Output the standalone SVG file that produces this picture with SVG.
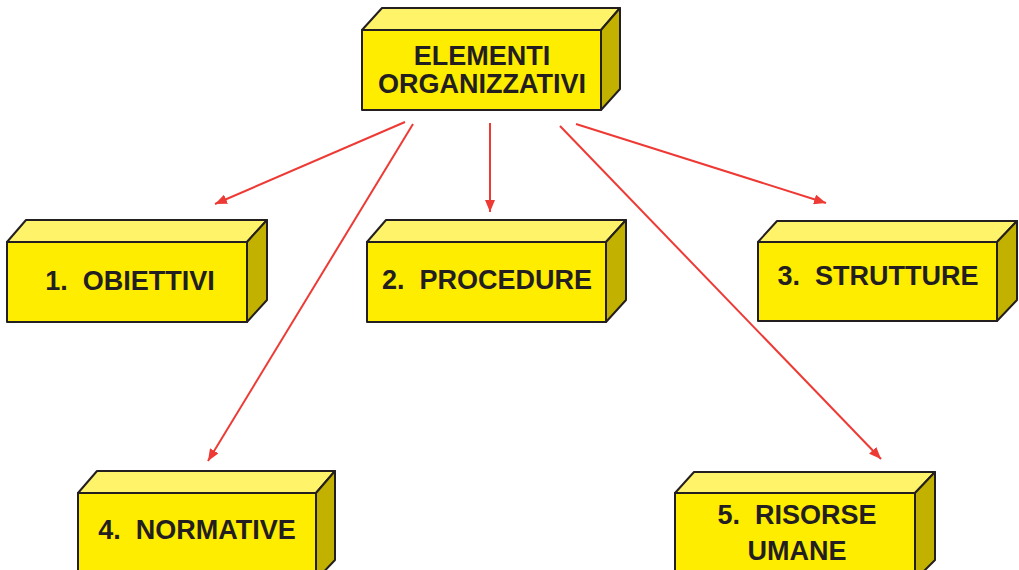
<svg xmlns="http://www.w3.org/2000/svg" width="1019" height="570" viewBox="0 0 1019 570">
<style>
.front{fill:#ffed00;stroke:#231f20;stroke-width:2;stroke-linejoin:round}
.top{fill:#fff36a;stroke:#231f20;stroke-width:2;stroke-linejoin:round}
.side{fill:#c3b100;stroke:#231f20;stroke-width:2;stroke-linejoin:round}
.lbl{font-family:"Liberation Sans",Arial,sans-serif;font-weight:bold;font-size:27px;fill:#231f20;text-anchor:middle;white-space:pre}
.conn line{stroke:#ee3a35;stroke-width:2}
</style>
<defs>
<marker id="ah" viewBox="0 0 12 10" refX="12" refY="5" markerWidth="12" markerHeight="10" markerUnits="userSpaceOnUse" orient="auto">
<path d="M0,0 L12,5 L0,10 z" fill="#ee3a35"/>
</marker>
</defs>
<rect width="1019" height="570" fill="#fff"/>
<g class="conn">
<line x1="405" y1="122" x2="215" y2="204" marker-end="url(#ah)"/>
<line x1="413" y1="124" x2="208" y2="461" marker-end="url(#ah)"/>
<line x1="490" y1="123" x2="490" y2="212" marker-end="url(#ah)"/>
<line x1="560" y1="126" x2="881" y2="459" marker-end="url(#ah)"/>
<line x1="576" y1="124" x2="826" y2="203" marker-end="url(#ah)"/>
</g>
<g id="root">
<polygon class="top" points="362,30 382,8 620,8 601,30"/>
<polygon class="side" points="601,30 620,8 620,89 601,110"/>
<rect class="front" x="362" y="30" width="239" height="80"/>
<text class="lbl" x="482" y="65">ELEMENTI</text>
<text class="lbl" x="482" y="93">ORGANIZZATIVI</text>
</g>
<g id="n1">
<polygon class="top" points="7,242 26,220 267,220 247,242"/>
<polygon class="side" points="247,242 267,220 267,300 247,322"/>
<rect class="front" x="7" y="242" width="240" height="80"/>
<text class="lbl" x="130" y="290">1.  OBIETTIVI</text>
</g>
<g id="n2">
<polygon class="top" points="367,242 386,220 626,220 606,242"/>
<polygon class="side" points="606,242 626,220 626,300 606,322"/>
<rect class="front" x="367" y="242" width="239" height="80"/>
<text class="lbl" x="487" y="289">2.  PROCEDURE</text>
</g>
<g id="n3">
<polygon class="top" points="758,242 777,221 1017,221 997,242"/>
<polygon class="side" points="997,242 1017,221 1017,300 997,321"/>
<rect class="front" x="758" y="242" width="239" height="79"/>
<text class="lbl" x="878" y="285">3.  STRUTTURE</text>
</g>
<g id="n4">
<polygon class="top" points="78,493 97,471 335,471 316,493"/>
<polygon class="side" points="316,493 335,471 335,560 316,580"/>
<rect class="front" x="78" y="493" width="238" height="90"/>
<text class="lbl" x="197" y="539">4.  NORMATIVE</text>
</g>
<g id="n5">
<polygon class="top" points="675,493 694,472 935,472 915,493"/>
<polygon class="side" points="915,493 935,472 935,560 915,580"/>
<rect class="front" x="675" y="493" width="240" height="90"/>
<text class="lbl" x="797" y="524">5.  RISORSE</text>
<text class="lbl" x="797" y="560">UMANE</text>
</g>
</svg>
